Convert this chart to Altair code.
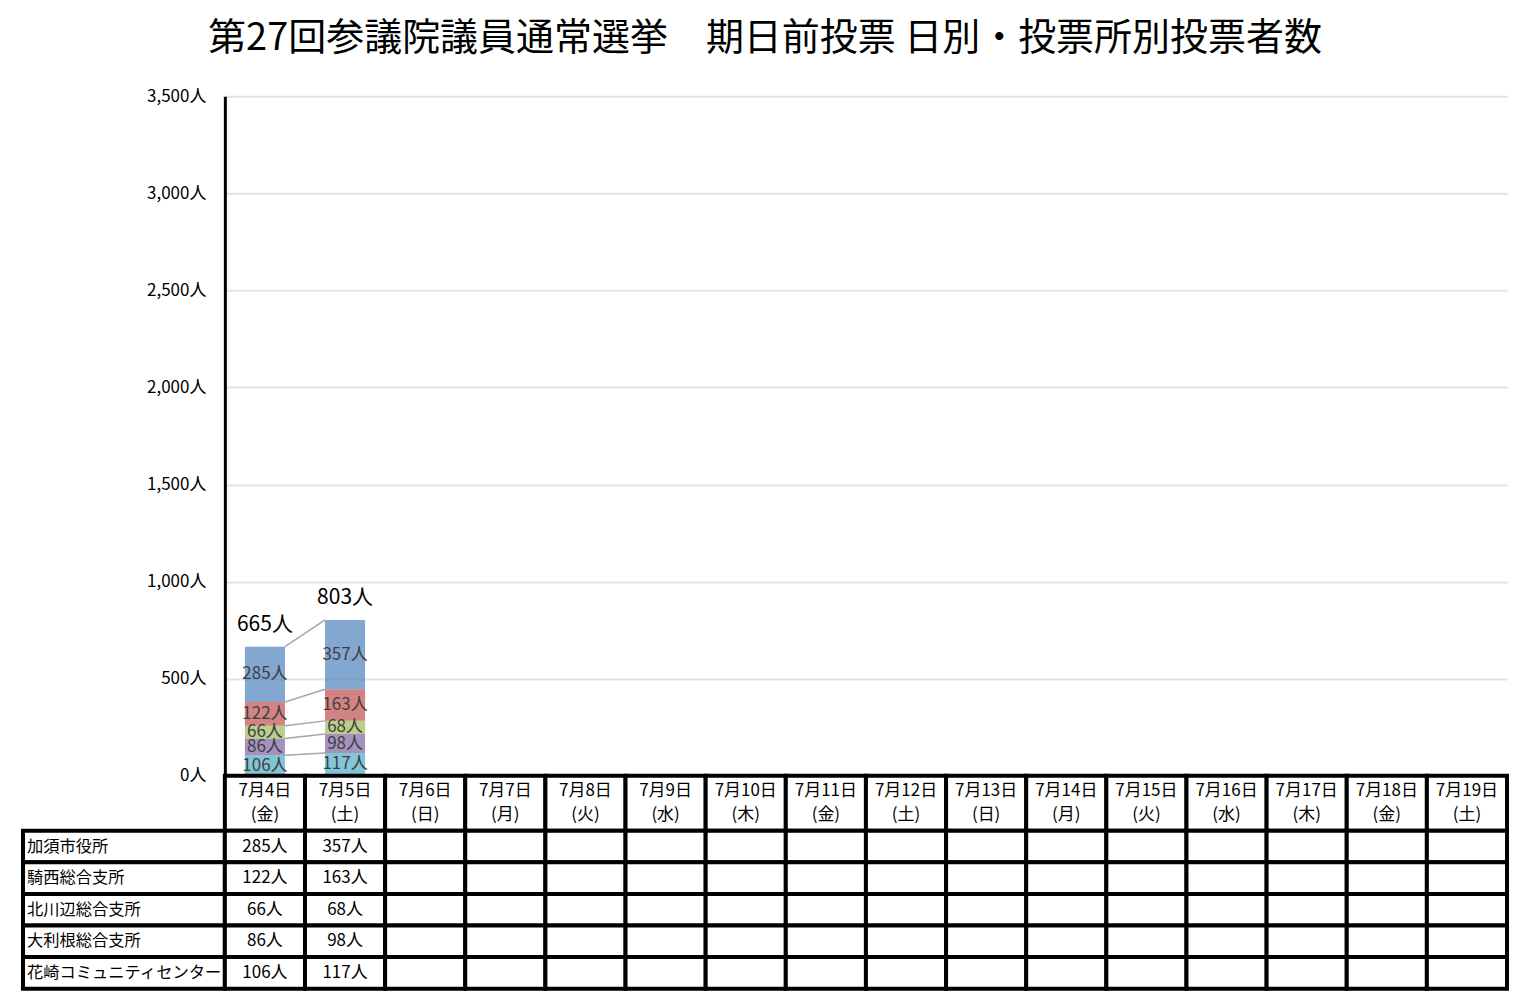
import altair as alt
import pandas as pd

FONT = "Noto Sans CJK JP"

dates = ["7月4日", "7月5日", "7月6日", "7月7日", "7月8日", "7月9日", "7月10日", "7月11日",
         "7月12日", "7月13日", "7月14日", "7月15日", "7月16日", "7月17日", "7月18日", "7月19日"]
weekdays = ["金", "土", "日", "月", "火", "水", "木", "金", "土", "日", "月", "火", "水", "木", "金", "土"]
stations = ["加須市役所", "騎西総合支所", "北川辺総合支所", "大利根総合支所", "花崎コミュニティセンター"]
kazo = [285, 357]
kisai = [122, 163]
kitakawabe = [66, 68]
tone = [86, 98]
hanasaki = [106, 117]
series = [kazo, kisai, kitakawabe, tone, hanasaki]
colors = ["#4F81BD", "#C0504D", "#9BBB59", "#8064A2", "#4BACC6"]
y_ticks = [0, 500, 1000, 1500, 2000, 2500, 3000, 3500]
title_text = "第27回参議院議員通常選挙　期日前投票 日別・投票所別投票者数"

# ---- long table of values ----
rows = []
for si, (st, vals) in enumerate(zip(stations, series)):
    for di, v in enumerate(vals):
        rows.append({"date": dates[di], "station": st, "value": v,
                     "order": len(stations) - 1 - si})
df = pd.DataFrame(rows).sort_values(["date", "order"])
df["top"] = df.groupby("date")["value"].cumsum()
df["low"] = df["top"] - df["value"]
df["mid"] = (df["top"] + df["low"]) / 2
df["label"] = df["value"].astype(str) + "人"

totals = df.groupby("date", as_index=False)["value"].sum()
totals["label"] = totals["value"].astype(str) + "人"

# series connector lines between consecutive days
lines = []
for st in stations:
    sub = df[df["station"] == st].set_index("date")
    for i in range(len(dates) - 1):
        a, b = dates[i], dates[i + 1]
        if a in sub.index and b in sub.index:
            lines.append({"date": a, "next": b, "y1": sub.loc[a, "top"], "y2": sub.loc[b, "top"]})
lines = pd.DataFrame(lines)

xs = alt.Scale(domain=dates, paddingInner=0.5, paddingOuter=0.25)
ys = alt.Scale(domain=[0, 3500])


def yaxis():
    return alt.Axis(values=y_ticks, labelExpr="format(datum.value, ',') + '人'",
                    domain=True, domainColor="black", domainWidth=3, ticks=False,
                    grid=True, gridColor="#e3e3e3", gridWidth=2,
                    labelFont=FONT, labelFontSize=17, labelColor="black", labelPadding=19)


X = alt.X("date:N", sort=dates, scale=xs, axis=None)

bars = alt.Chart(df).mark_bar(opacity=0.7).encode(
    x=X,
    y=alt.Y("low:Q", scale=ys, axis=yaxis(), title=None),
    y2="top:Q",
    color=alt.Color("station:N", scale=alt.Scale(domain=stations, range=colors), legend=None),
)
seg_text = alt.Chart(df).mark_text(font=FONT, fontSize=17, color="#404040").encode(
    x=X,
    y=alt.Y("mid:Q", scale=ys, axis=yaxis(), title=None),
    text="label:N",
)
tot_text = alt.Chart(totals).mark_text(font=FONT, fontSize=21, color="black",
                                       baseline="bottom", dy=-12).encode(
    x=X,
    y=alt.Y("value:Q", scale=ys, axis=yaxis(), title=None),
    text="label:N",
)
conn = alt.Chart(lines).mark_rule(color="#a6a6a6", strokeWidth=1.5, xOffset=20, x2Offset=-20).encode(
    x=X,
    x2="next:N",
    y=alt.Y("y1:Q", scale=ys, axis=yaxis(), title=None),
    y2="y2:Q",
)
bar_chart = alt.layer(bars, conn, seg_text, tot_text).properties(width=1283, height=680)

# ---- header row ----
hdr = pd.DataFrame({"date": dates, "label": [f"{d}\n({w})" for d, w in zip(dates, weekdays)]})
xt = alt.Scale(domain=dates, paddingInner=0, paddingOuter=0)
XT = alt.X("date:N", sort=dates, scale=xt, axis=None)
header = alt.layer(
    alt.Chart(hdr).mark_rect(fill="white", stroke="black", strokeWidth=4).encode(x=XT),
    alt.Chart(hdr).mark_text(font=FONT, fontSize=17, color="black", lineBreak="\n",
                             lineHeight=24, dy=-12).encode(x=XT, text="label:N"),
).properties(width=1283, height=55)

# ---- value cells ----
cells = []
for st, vals in zip(stations, series):
    for di, d in enumerate(dates):
        cells.append({"date": d, "station": st,
                      "label": f"{vals[di]}人" if di < len(vals) else ""})
cells = pd.DataFrame(cells)
yt = alt.Scale(domain=stations, paddingInner=0, paddingOuter=0)
YT = alt.Y("station:N", sort=stations, scale=yt, axis=None)
values_tbl = alt.layer(
    alt.Chart(cells).mark_rect(fill="white", stroke="black", strokeWidth=4).encode(x=XT, y=YT),
    alt.Chart(cells).mark_text(font=FONT, fontSize=17, color="black").encode(
        x=XT, y=YT, text="label:N"),
).properties(width=1283, height=158)

# ---- row labels ----
lab = pd.DataFrame({"station": stations})
labels_tbl = alt.layer(
    alt.Chart(lab).mark_rect(fill="white", stroke="black", strokeWidth=4).encode(y=YT),
    alt.Chart(lab).mark_text(font=FONT, fontSize=16.3, color="black", align="left", dx=4).encode(
        x=alt.value(0), y=YT, text="station:N"),
).properties(width=202, height=158)

blank = pd.DataFrame({"s": [""]})
spacer1 = alt.Chart(blank).mark_text().encode(text="s:N").properties(width=202, height=680)
spacer2 = alt.Chart(blank).mark_text().encode(text="s:N").properties(width=202, height=55)

chart = alt.concat(spacer1, bar_chart, spacer2, header, labels_tbl, values_tbl,
                   columns=2, spacing=0, bounds="flush").properties(
    title=alt.TitleParams(title_text, font=FONT, fontSize=38, fontWeight="normal",
                          color="black", anchor="middle", offset=29),
    padding={"left": 13, "top": 12, "right": 5, "bottom": 2},
    background="white",
).configure_view(stroke=None)

chart.save("out.html", embed_options={"renderer": "svg", "actions": False})
